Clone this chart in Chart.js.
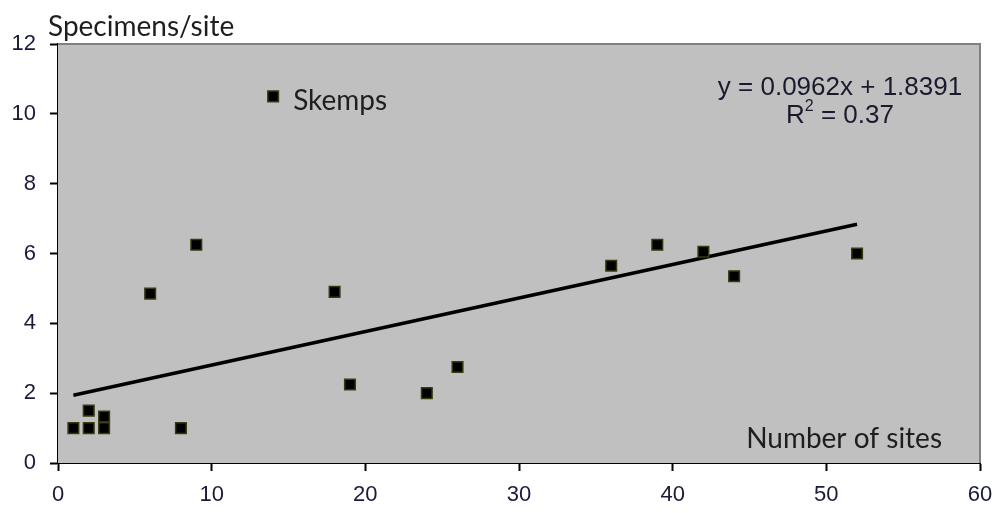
<!DOCTYPE html>
<html>
<head>
<meta charset="utf-8">
<script src="https://cdn.jsdelivr.net/npm/chart.js@4/dist/chart.umd.min.js"></script>
<style>
  html, body { margin: 0; padding: 0; background: #fff; }
  #wrap { width: 995px; height: 513px; }
</style>
</head>
<body>
<div id="wrap"><canvas id="chart" width="995" height="513"></canvas></div>
<script>
// number of sites vs specimens per site
const sitesX = [1, 2, 2, 3, 3, 6, 8, 9, 14, 18, 19, 24, 26, 36, 39, 42, 44, 52];
const specimensY = [1, 1, 1.5, 1, 1.33, 4.85, 1, 6.25, 10.5, 4.9, 2.25, 2.0, 2.75, 5.65, 6.25, 6.05, 5.35, 6.0];
// trendline ends as drawn (x = 1 .. 52)
const trendX = [1, 52];
const trendY = [1.94, 6.84];
const xTicks = [0, 10, 20, 30, 40, 50, 60];
const yTicks = [0, 2, 4, 6, 8, 10, 12];
const outlierIndex = 8; // Skemps

const points = sitesX.map((x, i) => ({ x: x, y: specimensY[i] }));
const trend = trendX.map((x, i) => ({ x: x, y: trendY[i] }));

const labelFont = '28px Lato, "Open Sans", sans-serif';
const eqFont = '26px "Liberation Sans", Arial, sans-serif';
const supFont = '16px "Liberation Sans", Arial, sans-serif';

// grey plot area, borders and the text labels
const plotExtras = {
    id: 'plotExtras',
    beforeDatasetsDraw(chart) {
        const { ctx, chartArea: a } = chart;
        ctx.save();
        ctx.fillStyle = '#c0c0c0';
        ctx.fillRect(a.left, a.top, a.right - a.left, a.bottom - a.top);
        ctx.strokeStyle = '#808080';
        ctx.lineWidth = 2;
        ctx.beginPath();
        ctx.moveTo(a.left, a.top);
        ctx.lineTo(a.right, a.top);
        ctx.lineTo(a.right, a.bottom);
        ctx.stroke();
        ctx.restore();
    },
    afterDatasetsDraw(chart) {
        const { ctx, chartArea: a, scales } = chart;
        ctx.save();
        ctx.fillStyle = '#1e1e1e';
        ctx.font = labelFont;
        ctx.textBaseline = 'alphabetic';
        ctx.textAlign = 'left';
        ctx.fillText('Specimens/site', a.left - 10, a.top - 8);
        ctx.textAlign = 'right';
        ctx.fillText('Number of sites', a.right - 38, a.bottom - 15);

        const p = points[outlierIndex];
        ctx.textAlign = 'left';
        ctx.textBaseline = 'middle';
        ctx.fillText('Skemps', scales.x.getPixelForValue(p.x) + 20, scales.y.getPixelForValue(p.y) + 5);

        // trendline equation
        ctx.fillStyle = '#1a1a2e';
        ctx.font = eqFont;
        ctx.textAlign = 'center';
        ctx.textBaseline = 'alphabetic';
        const cx = a.right - 140;
        ctx.fillText('y = 0.0962x + 1.8391', cx, a.top + 51);
        const r1 = 'R';
        const r2 = ' = 0.37';
        const w1 = ctx.measureText(r1).width;
        const w2 = ctx.measureText(r2).width;
        ctx.font = supFont;
        const ws = ctx.measureText('2').width;
        const startX = cx - (w1 + ws + w2) / 2;
        ctx.textAlign = 'left';
        ctx.font = eqFont;
        ctx.fillText(r1, startX, a.top + 79);
        ctx.font = supFont;
        ctx.fillText('2', startX + w1, a.top + 67);
        ctx.font = eqFont;
        ctx.fillText(r2, startX + w1 + ws, a.top + 79);
        ctx.restore();
    }
};

const tickFont = { family: '"Liberation Sans", Arial, sans-serif', size: 22 };

const ctx = document.getElementById('chart').getContext('2d');
new Chart(ctx, {
    type: 'scatter',
    data: {
        datasets: [
            {
                label: 'Trend',
                type: 'line',
                data: trend,
                borderColor: '#000',
                borderWidth: 3.5,
                pointRadius: 0,
                fill: false,
                order: 2
            },
            {
                label: 'Specimens/site',
                data: points,
                pointStyle: 'rect',
                pointRadius: 7.5,
                pointBackgroundColor: '#000',
                pointBorderColor: '#3a3a10',
                pointBorderWidth: 1.5,
                order: 1
            }
        ]
    },
    options: {
        responsive: false,
        animation: false,
        layout: { padding: { top: 44, right: 15, left: 0, bottom: 0 } },
        plugins: {
            legend: { display: false },
            tooltip: { enabled: false }
        },
        scales: {
            x: {
                type: 'linear',
                min: 0,
                max: 60,
                afterBuildTicks: axis => { axis.ticks = xTicks.map(v => ({ value: v })); },
                afterFit: axis => {
                    axis.height = 50;
                    axis.paddingLeft = 0;
                    axis.paddingRight = 0;
                },
                ticks: {
                    padding: 11,
                    color: '#1a1a3a',
                    font: tickFont
                },
                grid: {
                    drawOnChartArea: false,
                    drawTicks: true,
                    tickLength: 8,
                    tickWidth: 2,
                    color: '#000'
                },
                border: { color: '#000', width: 2 }
            },
            y: {
                type: 'linear',
                min: 0,
                max: 12,
                afterBuildTicks: axis => { axis.ticks = yTicks.map(v => ({ value: v })); },
                afterFit: axis => {
                    axis.width = 58;
                    axis.paddingTop = 0;
                    axis.paddingBottom = 0;
                },
                ticks: {
                    padding: 14,
                    color: '#1a1a3a',
                    font: tickFont
                },
                grid: {
                    drawOnChartArea: false,
                    drawTicks: true,
                    tickLength: 8,
                    tickWidth: 2,
                    color: '#000'
                },
                border: { color: '#000', width: 2 }
            }
        }
    },
    plugins: [plotExtras]
});
</script>
</body>
</html>
